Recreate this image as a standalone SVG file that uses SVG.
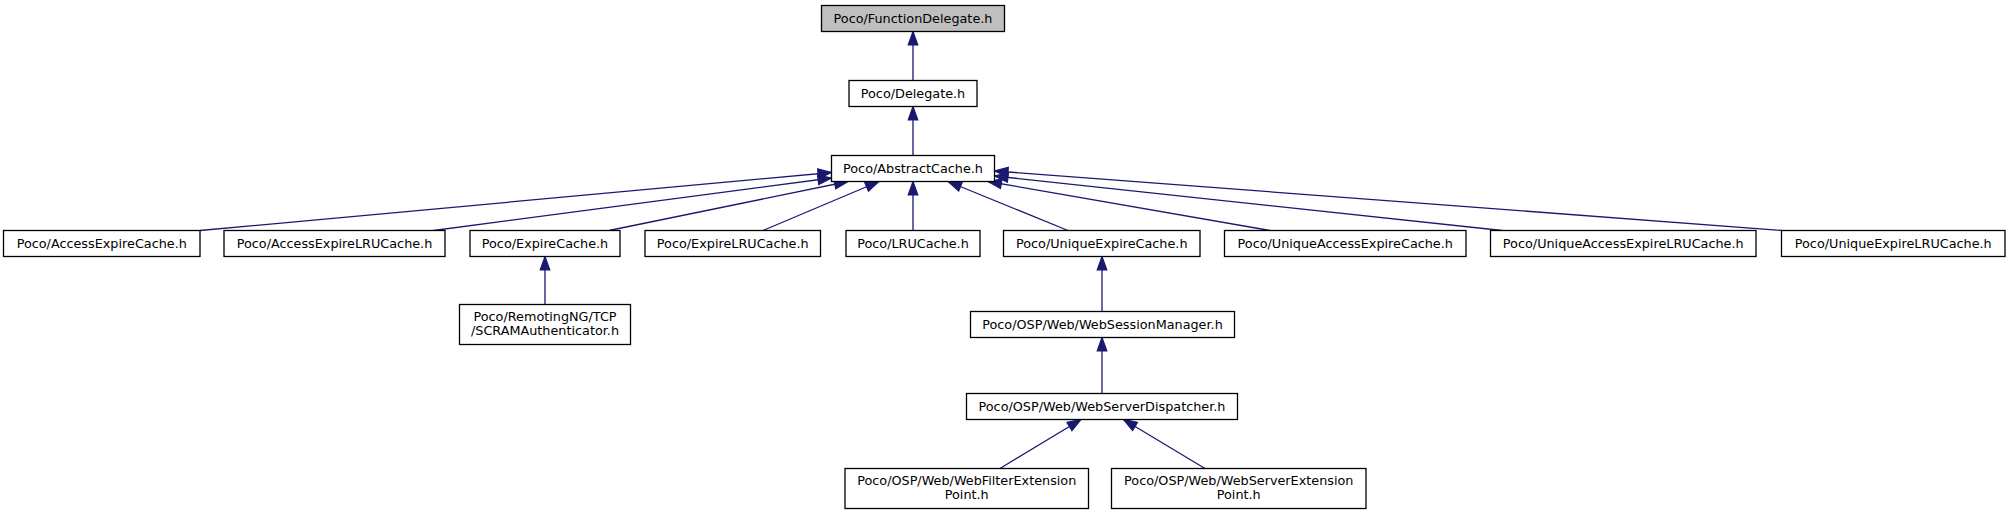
<svg xmlns="http://www.w3.org/2000/svg" width="2010" height="515" viewBox="0 0 2010 515">
<style>
.node rect{fill:#ffffff;stroke:#000000;stroke-width:1.3}
.node.root rect{fill:#bfbfbf}
.node text{font-family:"DejaVu Sans","Liberation Sans",sans-serif;font-size:12.8px;fill:#000000;text-anchor:middle}
.edges path{fill:none;stroke:#191970;stroke-width:1.3;marker-end:url(#arr)}
</style>
<defs>
<marker id="arr" markerUnits="userSpaceOnUse" markerWidth="16" markerHeight="12" viewBox="0 0 16 12" refX="14.5" refY="6" orient="auto">
<path d="M1,1.2 L14.5,6 L1,10.8 Z" fill="#191970" stroke="#191970" stroke-width="1.2"/>
</marker>
</defs>
<rect width="2010" height="515" fill="#ffffff"/>
<g class="edges">
<path d="M913,80.5 L913,31.5"/>
<path d="M913,155.5 L913,106.5"/>
<path d="M200,230.5 L831.5,172.5"/>
<path d="M433.5,230.5 L831.5,178"/>
<path d="M609,230.5 L848,181.5"/>
<path d="M763,230.5 L879,181.5"/>
<path d="M913,230.5 L913,181.5"/>
<path d="M1068,230.5 L948,181.5"/>
<path d="M1270,230.5 L988,181.5"/>
<path d="M1502,230.5 L994.5,176"/>
<path d="M1782,230.5 L994.5,171"/>
<path d="M545,304.5 L545,256.5"/>
<path d="M1102,311.5 L1102,256.5"/>
<path d="M1102,393.5 L1102,337.5"/>
<path d="M1000,468.5 L1081,419.5"/>
<path d="M1205,468.5 L1123.5,419.5"/>
</g>
<g id="n0" class="node root"><rect x="821.5" y="5.5" width="183" height="26"/><text x="913" y="22.9">Poco/FunctionDelegate.h</text></g>
<g id="n1" class="node"><rect x="849" y="80.5" width="128" height="26"/><text x="913" y="97.9">Poco/Delegate.h</text></g>
<g id="n2" class="node"><rect x="831.5" y="155.5" width="163" height="26"/><text x="913" y="172.9">Poco/AbstractCache.h</text></g>
<g id="n3" class="node"><rect x="3.5" y="230.5" width="196.5" height="26"/><text x="101.75" y="247.9">Poco/AccessExpireCache.h</text></g>
<g id="n4" class="node"><rect x="224" y="230.5" width="221" height="26"/><text x="334.5" y="247.9">Poco/AccessExpireLRUCache.h</text></g>
<g id="n5" class="node"><rect x="470" y="230.5" width="150" height="26"/><text x="545" y="247.9">Poco/ExpireCache.h</text></g>
<g id="n6" class="node"><rect x="645" y="230.5" width="175.5" height="26"/><text x="732.75" y="247.9">Poco/ExpireLRUCache.h</text></g>
<g id="n7" class="node"><rect x="846" y="230.5" width="134" height="26"/><text x="913" y="247.9">Poco/LRUCache.h</text></g>
<g id="n8" class="node"><rect x="1003.5" y="230.5" width="196.5" height="26"/><text x="1101.75" y="247.9">Poco/UniqueExpireCache.h</text></g>
<g id="n9" class="node"><rect x="1224.5" y="230.5" width="241.5" height="26"/><text x="1345.25" y="247.9">Poco/UniqueAccessExpireCache.h</text></g>
<g id="n10" class="node"><rect x="1490.5" y="230.5" width="265.5" height="26"/><text x="1623.25" y="247.9">Poco/UniqueAccessExpireLRUCache.h</text></g>
<g id="n11" class="node"><rect x="1781.5" y="230.5" width="223.5" height="26"/><text x="1893.25" y="247.9">Poco/UniqueExpireLRUCache.h</text></g>
<g id="n12" class="node"><rect x="459.5" y="304.5" width="171" height="40"/><text x="545" y="321.2">Poco/RemotingNG/TCP</text><text x="545" y="335.2">/SCRAMAuthenticator.h</text></g>
<g id="n13" class="node"><rect x="970.5" y="311.5" width="264" height="26"/><text x="1102.5" y="328.9">Poco/OSP/Web/WebSessionManager.h</text></g>
<g id="n14" class="node"><rect x="966.5" y="393.5" width="271" height="26"/><text x="1102" y="410.9">Poco/OSP/Web/WebServerDispatcher.h</text></g>
<g id="n15" class="node"><rect x="845" y="468.5" width="243.5" height="40"/><text x="966.75" y="485.2">Poco/OSP/Web/WebFilterExtension</text><text x="966.75" y="499.2">Point.h</text></g>
<g id="n16" class="node"><rect x="1111.5" y="468.5" width="254.5" height="40"/><text x="1238.75" y="485.2">Poco/OSP/Web/WebServerExtension</text><text x="1238.75" y="499.2">Point.h</text></g>
</svg>
